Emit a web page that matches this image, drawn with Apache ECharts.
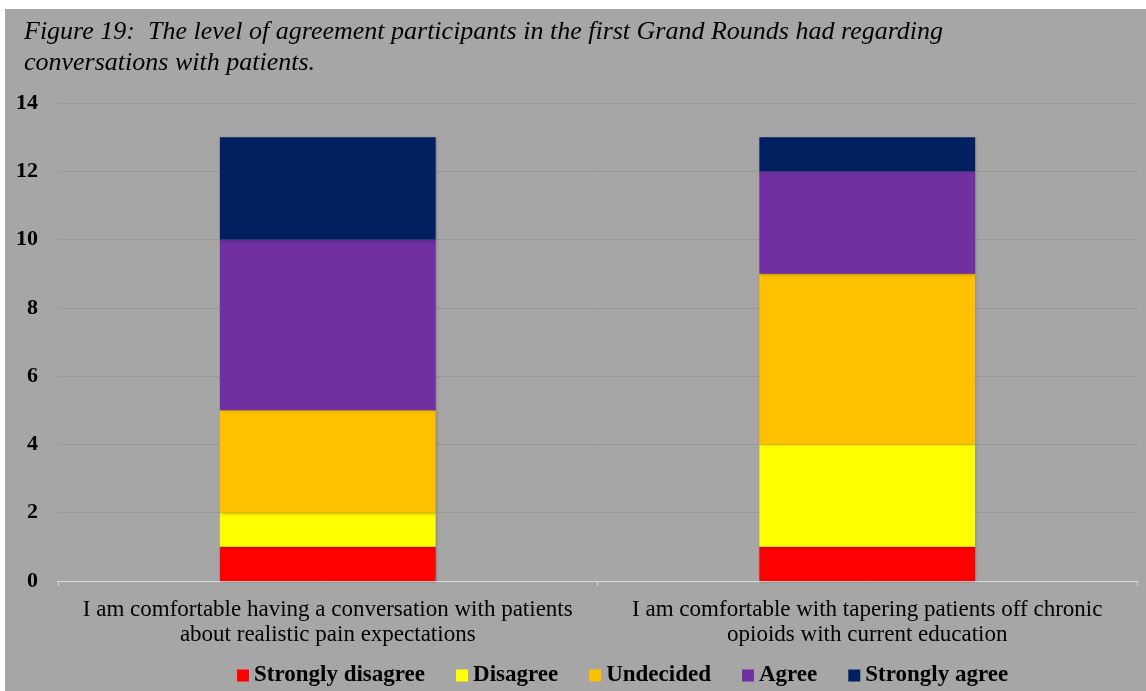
<!DOCTYPE html>
<html>
<head>
<meta charset="utf-8">
<script src="https://cdn.jsdelivr.net/npm/echarts@6/dist/echarts.min.js"></script>
<style>
html,body{margin:0;padding:0;background:#ffffff;width:1146px;height:691px;overflow:hidden;}
#chart{position:absolute;left:5px;top:9px;width:1141px;height:682px;}
</style>
</head>
<body>
<div id="chart"></div>
<script>
const titleText = "Figure 19:  The level of agreement participants in the first Grand Rounds had regarding\nconversations with patients.";
const categories = [
  "I am comfortable having a conversation with patients\nabout realistic pain expectations",
  "I am comfortable with tapering patients off chronic\nopioids with current education"
];
const seriesNames = ["Strongly disagree", "Disagree", "Undecided", "Agree", "Strongly agree"];
const stronglyDisagree = [1, 1];
const disagree = [1, 3];
const undecided = [3, 5];
const agree = [5, 3];
const stronglyAgree = [3, 1];
const colors = ["#ff0000", "#ffff00", "#ffc000", "#7030a0", "#002060"];
const seriesData = [stronglyDisagree, disagree, undecided, agree, stronglyAgree];

const chart = echarts.init(document.getElementById('chart'));
const serif = "'Liberation Serif', 'DejaVu Serif', serif";
chart.setOption({
  backgroundColor: '#a6a6a6',
  animation: false,
  title: {
    text: titleText,
    left: 14,
    top: 3,
    textStyle: {
      fontFamily: serif,
      fontStyle: 'italic',
      fontWeight: 'normal',
      fontSize: 26,
      lineHeight: 31,
      color: '#000'
    }
  },
  legend: {
    top: 650,
    left: 227,
    itemWidth: 12,
    itemHeight: 12,
    itemGap: 31,
    icon: 'rect',
    textStyle: {
      fontFamily: serif,
      fontWeight: 'bold',
      fontSize: 23,
      color: '#000'
    },
    data: seriesNames
  },
  grid: {
    left: 53,
    right: 9,
    top: 94,
    bottom: 110
  },
  xAxis: {
    type: 'category',
    data: categories,
    axisLine: { lineStyle: { color: '#d9d9d9', width: 1 } },
    axisTick: { show: true, length: 5, lineStyle: { color: '#d9d9d9' } },
    axisLabel: {
      fontFamily: serif,
      fontSize: 23,
      lineHeight: 25,
      color: '#000',
      margin: 16,
      interval: 0
    }
  },
  yAxis: {
    type: 'value',
    min: 0,
    max: 14,
    interval: 2,
    axisLine: { show: false },
    axisTick: { show: false },
    splitLine: { lineStyle: { color: '#989898', width: 1 } },
    axisLabel: {
      fontFamily: serif,
      fontWeight: 'bold',
      fontSize: 22,
      color: '#000',
      margin: 20
    }
  },
  series: seriesNames.map((name, i) => ({
    name: name,
    type: 'bar',
    stack: 'total',
    barWidth: '40%',
    data: seriesData[i],
    itemStyle: {
      color: colors[i],
      shadowColor: 'rgba(0,0,0,0.25)',
      shadowBlur: 3,
      shadowOffsetX: 1,
      shadowOffsetY: 1
    }
  }))
});
</script>
</body>
</html>
